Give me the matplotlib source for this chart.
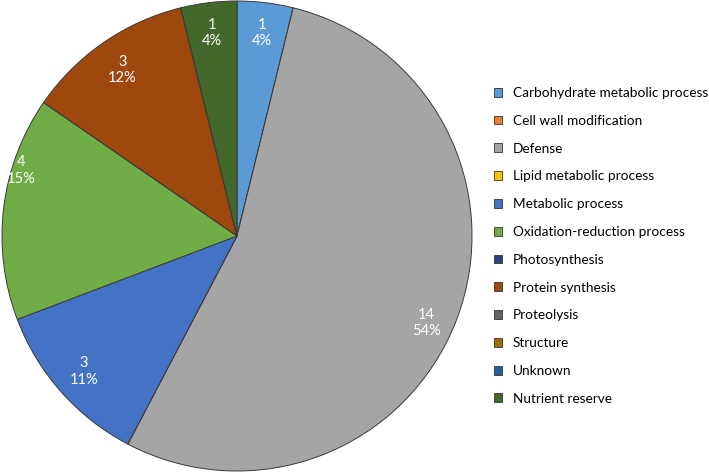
import numpy as np
import matplotlib
matplotlib.use("Agg")
import matplotlib.pyplot as plt
from matplotlib.patches import Patch

categories = ["Carbohydrate metabolic process", "Cell wall modification", "Defense",
              "Lipid metabolic process", "Metabolic process", "Oxidation-reduction process",
              "Photosynthesis", "Protein synthesis", "Proteolysis", "Structure",
              "Unknown", "Nutrient reserve"]
counts = [1, 0, 14, 0, 3, 4, 0, 3, 0, 0, 0, 1]
pct_labels = ["4%", "", "54%", "", "11%", "15%", "", "12%", "", "", "", "4%"]
colors = ["#5B9BD5", "#ED7D31", "#A5A5A5", "#FFC000", "#4472C4", "#70AD47",
          "#264478", "#9E480E", "#636363", "#997300", "#255E91", "#43682B"]

plt.rcParams['font.family'] = ['Lato', 'DejaVu Sans']

W, H = 709, 473
fig = plt.figure(figsize=(W / 100, H / 100), dpi=100)
cx, cy, r = 237, 236, 235
ax = fig.add_axes([(cx - r) / W, (H - cy - r) / H, 2 * r / W, 2 * r / H])

wedges, _ = ax.pie(counts, colors=colors, startangle=90, counterclock=False,
                   radius=1.0, wedgeprops=dict(edgecolor="#3a3a3a", linewidth=0.7))
ax.set_xlim(-1, 1)
ax.set_ylim(-1, 1)
ax.set_aspect('equal')
ax.axis('off')

# label placement (fraction across wedge, radial distance)
frac = {0: 0.5, 2: 0.52, 4: 0.5, 5: 0.68, 7: 0.5, 11: 0.5}
dist = {0: 0.87, 2: 0.885, 4: 0.87, 5: 0.96, 7: 0.86, 11: 0.87}
for i, w in enumerate(wedges):
    if counts[i] == 0:
        continue
    a = w.theta1 + (w.theta2 - w.theta1) * (1 - frac[i])
    rad = np.deg2rad(a)
    d = dist[i]
    ax.text(d * np.cos(rad), d * np.sin(rad), f"{counts[i]}\n{pct_labels[i]}",
            ha='center', va='center', color='white', fontsize=10.5, linespacing=1.2)

handles = [Patch(facecolor=c, edgecolor="#333333", linewidth=0.6) for c in colors]
fig.legend(handles, categories, loc='upper left', bbox_to_anchor=(494 / W, 1 - 87 / H),
           frameon=False, fontsize=9.8, handlelength=0.62, handleheight=0.62,
           handletextpad=0.75, labelspacing=1.16, borderpad=0, borderaxespad=0)

fig.savefig("out.png", dpi=100, facecolor='white')
